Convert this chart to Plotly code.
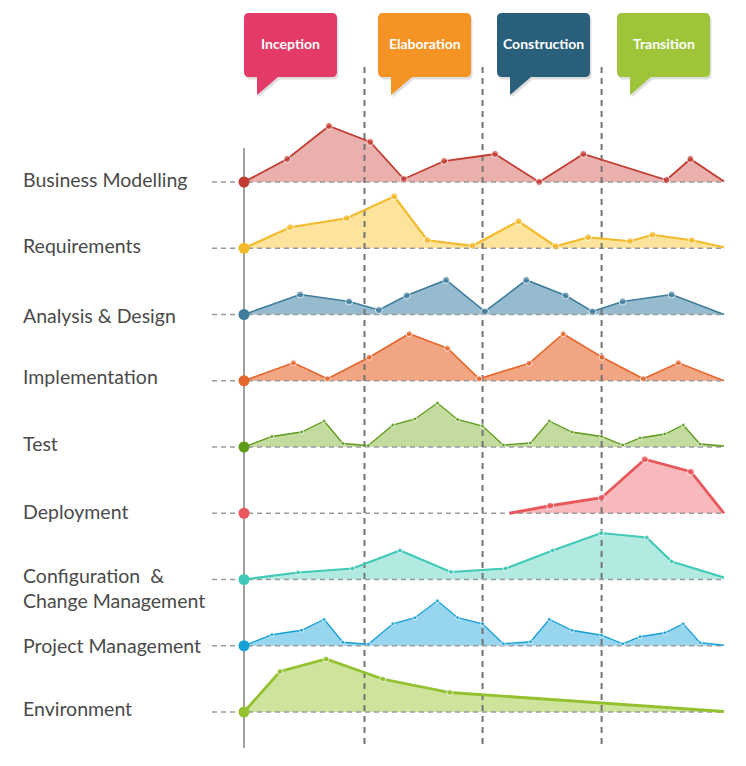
import plotly.graph_objects as go

# --- data ----------------------------------------------------------------
# x = position along the project timeline (0-100 %), y = activity level
LANES = [
    "Business Modelling",
    "Requirements",
    "Analysis & Design",
    "Implementation",
    "Test",
    "Deployment",
    "Configuration  &<br>Change Management",
    "Project Management",
    "Environment",
]
PHASES = ["Inception", "Elaboration", "Construction", "Transition"]
PHASE_ENDS = [25.1, 49.7, 74.5]

business_x = [0, 9.0, 17.7, 26.3, 33.3, 41.7, 52.3, 61.5, 70.7, 88.0, 93.0, 100]
business_y = [0, 23, 56, 40, 3, 21, 28, 0, 28, 2, 23, 0.5]

requirements_x = [0, 9.6, 21.4, 31.3, 38.2, 47.6, 57.2, 64.9, 71.7, 80.4, 85.1, 93.3, 100]
requirements_y = [0, 21, 30, 52, 8, 2.5, 27, 2, 11, 7, 13.5, 8, 1]

analysis_x = [0, 11.7, 21.9, 28.1, 33.9, 42.1, 50.2, 58.8, 67.0, 72.6, 78.9, 89.1, 100]
analysis_y = [0, 20, 13, 4.5, 19, 34.5, 3, 34.5, 19, 3, 13, 20, 0]

implementation_x = [0, 10.3, 17.4, 26.1, 34.4, 42.4, 49.0, 59.4, 66.5, 74.6, 83.2, 90.5, 100]
implementation_y = [0, 18, 2, 23.5, 47, 32.5, 2, 17.5, 47, 23.5, 2, 18, 0]

test_x = [0, 5.8, 12.0, 16.7, 20.6, 25.9, 31.0, 35.6, 40.3, 44.5, 49.7,
          54.0, 59.7, 63.6, 68.3, 74.5, 78.9, 82.5, 87.7, 91.5, 95.0, 100]
test_y = [0, 10.5, 15, 26, 3.5, 1.5, 22, 28, 44, 27.5, 21,
          2, 4, 26, 15, 10.5, 2, 9, 13, 22, 3, 1]

deployment_x = [55.3, 63.8, 74.5, 83.5, 93.1, 100]
deployment_y = [0, 7.5, 15.5, 54, 41.5, 0]

config_x = [0, 11.3, 22.6, 32.5, 43.1, 54.5, 64.3, 74.4, 83.9, 89.1, 100]
config_y = [0, 7, 11, 29, 7.5, 11, 29, 46.5, 42, 18, 2]

project_x = [0, 5.8, 12.0, 16.7, 20.6, 25.9, 31.0, 35.6, 40.3, 44.5, 49.7,
             54.0, 59.7, 63.6, 68.3, 74.5, 78.9, 82.5, 87.7, 91.5, 95.0, 100]
project_y = [0, 11, 15.5, 26.5, 3.5, 1.5, 22, 28, 45, 28, 22,
             2, 4, 26.5, 15.5, 10.5, 2, 9, 13, 22, 3, 0.5]

environment_x = [0, 7.5, 17.1, 28.9, 42.9, 100]
environment_y = [0, 40.5, 53, 33, 19.5, 0.5]

SERIES = [
    (business_x, business_y),
    (requirements_x, requirements_y),
    (analysis_x, analysis_y),
    (implementation_x, implementation_y),
    (test_x, test_y),
    (deployment_x, deployment_y),
    (config_x, config_y),
    (project_x, project_y),
    (environment_x, environment_y),
]

# --- styling ---------------------------------------------------------------
LINE_COLORS = ["#C23B30", "#F2BA2C", "#3D7C9C", "#E5672E", "#5E9B1B",
               "#E8575B", "#40C9B6", "#17A0D8", "#94C130"]
FILL_COLORS = ["#E9B0AE", "#FDE39B", "#97BBCE", "#F2A583", "#C4DBA0",
               "#F8B9BC", "#B2EAE2", "#98D5EF", "#CEE49C"]
LINE_WIDTHS = [1.8, 2.2, 1.6, 1.6, 1.3, 2.8, 2.2, 1.3, 2.8]
MARKER_SIZES = [7, 7, 7, 6, 4, 7, 5, 4, 6]
LABEL_Y = [179.5, 245.5, 315.5, 376.5, 443.5, 511.5, 587.5, 645.5, 708.5]
BOX_COLORS = ["#E33A67", "#F59425", "#2A5F7B", "#9EC53A"]
BOX_LEFT = [244, 378, 497, 617]

W, H = 746, 766
PAGE_OFF = 8                     # html body margin: figure starts 8px in
X0_PX, PX_PER_UNIT = 244, 4.8    # timeline 0 sits at x=244px, 100 at 724px
LANE_TOP, LANE_STEP = 182, 66.25
GRID = "#9A9A9A"


def px2x(px):
    return (px - X0_PX) / PX_PER_UNIT


fig = go.Figure()

bases = [LANE_TOP + i * LANE_STEP for i in range(len(LANES))]

# fills first
for i, (xs, vs) in enumerate(SERIES):
    base = bases[i]
    ys = [base - v for v in vs]
    fig.add_trace(go.Scatter(
        x=xs + [xs[-1], xs[0]], y=ys + [base, base],
        fill="toself", fillcolor=FILL_COLORS[i], mode="lines",
        line=dict(width=0), hoverinfo="skip", showlegend=False,
    ))

# dashed lane baselines
for base in bases:
    fig.add_trace(go.Scatter(
        x=[px2x(212), 100], y=[base, base], mode="lines",
        line=dict(color=GRID, width=1.6, dash="5px,4px"),
        hoverinfo="skip", showlegend=False,
    ))

# phase boundaries
for b in PHASE_ENDS:
    fig.add_trace(go.Scatter(
        x=[b, b], y=[67, 748], mode="lines",
        line=dict(color="#747474", width=2, dash="6px,5px"),
        hoverinfo="skip", showlegend=False,
    ))

# activity lines
for i, (xs, vs) in enumerate(SERIES):
    base = bases[i]
    ys = [base - v for v in vs]
    sizes = [0] + [MARKER_SIZES[i]] * (len(xs) - 2) + [0]
    fig.add_trace(go.Scatter(
        x=xs, y=ys, mode="lines+markers",
        line=dict(color=LINE_COLORS[i], width=LINE_WIDTHS[i]),
        marker=dict(color=LINE_COLORS[i], size=sizes),
        name=LANES[i].replace("<br>", " "), showlegend=False,
    ))

# start dots on the axis
fig.add_trace(go.Scatter(
    x=[0] * len(bases), y=bases, mode="markers",
    marker=dict(color=LINE_COLORS, size=11),
    hoverinfo="skip", showlegend=False,
))

shapes = [dict(type="line", xref="x", yref="y", x0=0, x1=0, y0=148, y1=748,
               line=dict(color="#A0A0A0", width=2), layer="below")]


def bubble_path(left, top, w=93, h=64, r=5, dx=0.0, dy=0.0):
    l, t = left + dx, top + dy
    rgt, bot = l + w, t + h
    pts = [
        f"M {px2x(l + r)},{t}",
        f"L {px2x(rgt - r)},{t}",
        f"Q {px2x(rgt)},{t} {px2x(rgt)},{t + r}",
        f"L {px2x(rgt)},{bot - r}",
        f"Q {px2x(rgt)},{bot} {px2x(rgt - r)},{bot}",
        f"L {px2x(l + 34)},{bot}",
        f"L {px2x(l + 13)},{bot + 18}",
        f"L {px2x(l + 13)},{bot}",
        f"L {px2x(l + r)},{bot}",
        f"Q {px2x(l)},{bot} {px2x(l)},{bot - r}",
        f"L {px2x(l)},{t + r}",
        f"Q {px2x(l)},{t} {px2x(l + r)},{t}",
        "Z",
    ]
    return " ".join(pts)


annotations = []
for name, color, left in zip(PHASES, BOX_COLORS, BOX_LEFT):
    shapes.append(dict(type="path", xref="x", yref="y",
                       path=bubble_path(left, 13, dx=1.5, dy=2.5),
                       fillcolor="rgba(0,0,0,0.13)", line=dict(width=0)))
    shapes.append(dict(type="path", xref="x", yref="y",
                       path=bubble_path(left, 13),
                       fillcolor=color, line=dict(width=0)))
    annotations.append(dict(
        x=px2x(left + 46.5), y=43.5, xref="x", yref="y", text=f"<b>{name}</b>",
        showarrow=False, font=dict(family="Lato", size=14, color="white"),
    ))

for label, ly in zip(LANES, LABEL_Y):
    annotations.append(dict(
        x=(21 - PAGE_OFF) / W, xref="paper", y=ly, yref="y", text=label,
        xanchor="left", yanchor="middle", align="left", showarrow=False,
        font=dict(family="Lato", size=19.5, color="#4A4A4A"),
    ))

fig.update_layout(
    width=W, height=H,
    margin=dict(l=0, r=0, t=0, b=0),
    paper_bgcolor="white", plot_bgcolor="white",
    xaxis=dict(range=[px2x(PAGE_OFF), px2x(W + PAGE_OFF)], visible=False, fixedrange=True),
    yaxis=dict(range=[H + PAGE_OFF, PAGE_OFF], visible=False, fixedrange=True),
    shapes=shapes, annotations=annotations,
    showlegend=False,
)

fig.write_html("out.html")
